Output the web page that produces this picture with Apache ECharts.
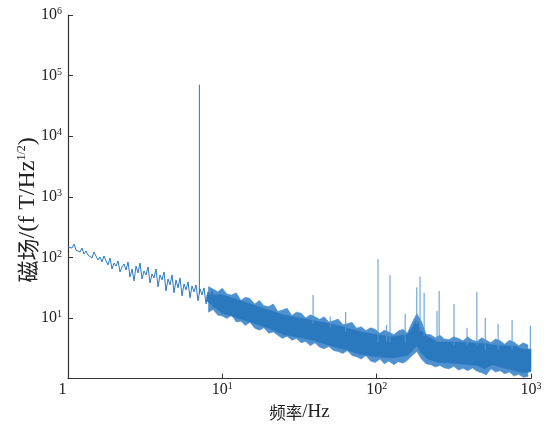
<!DOCTYPE html>
<html>
<head>
<meta charset="utf-8">
<script src="https://cdn.jsdelivr.net/npm/echarts@6/dist/echarts.min.js"></script>
<style>
  html, body { margin: 0; padding: 0; background: #fff; }
  #chart { width: 554px; height: 427px; }
</style>
</head>
<body>
<div id="chart"></div>
<script>
// low-frequency trace (1 - 10 Hz)
const traceFreq = [1.000, 1.030, 1.061, 1.094, 1.127, 1.161, 1.196, 1.232, 1.270, 1.308,
  1.348, 1.388, 1.431, 1.474, 1.519, 1.565, 1.612, 1.661, 1.711, 1.763,
  1.816, 1.872, 1.928, 1.987, 2.047, 2.109, 2.173, 2.239, 2.307, 2.377,
  2.449, 2.523, 2.599, 2.678, 2.759, 2.843, 2.929, 3.018, 3.109, 3.203,
  3.300, 3.400, 3.503, 3.609, 3.718, 3.831, 3.947, 4.066, 4.190, 4.316,
  4.447, 4.582, 4.721, 4.864, 5.011, 5.163, 5.319, 5.480, 5.646, 5.817,
  5.993, 6.175, 6.362, 6.554, 6.753, 6.957, 7.168, 7.385, 7.609, 7.839,
  8.076, 8.321, 8.573, 8.832, 9.100, 9.376, 9.660, 9.956, 10.26];
const traceVal = [148.3, 159.9, 142.7, 166, 132.3, 137.5, 122.7, 142.7, 113.7, 127.4,
  109.5, 118.1, 97.7, 122.7, 105.4, 90.6, 101.5, 84.0, 105.4, 87.2,
  75.0, 97.7, 64.5, 80.9, 72.2, 87.2, 57.5, 69.5, 77.9, 62.0,
  84.0, 47.6, 64.5, 40.9, 72.2, 55.4, 80.9, 44.1, 59.8, 51.3,
  69.5, 37.9, 53.3, 45.8, 64.5, 32.6, 51.3, 42.5, 57.5, 28.0,
  44.1, 35.2, 51.3, 26.0, 42.5, 31.4, 45.8, 23.2, 36.5, 29.1,
  39.4, 21.5, 33.9, 27.0, 35.2, 19.2, 30.2, 24.1, 31.4, 17.1,
  27.0, 20.7, 28.0, 14.7, 24.1, 18.5, 25.0, 13.6, 23.2];

// dense noise band (8 Hz - 1 kHz): solid core
const coreFreq = [7.94, 10, 12.6, 15.8, 20, 25.1, 31.6, 39.8, 50.1, 63.1,
  79.4, 100, 126, 158, 170, 182, 195, 214, 251, 316,
  398, 447, 501, 562, 631, 794, 891, 1000];
const coreHi = [24, 24, 20, 16.5, 13.5, 11.2, 10, 9, 8, 6.9,
  5.9, 5.3, 4.9, 5.3, 7, 9.5, 6.2, 4.9, 4.0, 4.0,
  3.9, 3.8, 3.8, 3.6, 3.5, 3.4, 3.0, 3.1];
const coreLo = [19, 12, 10, 8.3, 6.8, 5.3, 4.8, 4.2, 3.5, 3.0,
  2.5, 2.3, 2.2, 2.4, 2.9, 3.5, 2.6, 2.1, 1.85, 1.8,
  1.7, 1.65, 1.45, 1.7, 1.55, 1.35, 1.25, 1.3];

// ragged fringe of the band: frequency, highest and lowest excursion
const fringeFreq = [8.13, 8.71, 9.33, 10.0, 10.7, 11.5, 12.3, 13.2, 14.1, 15.1,
  16.2, 17.4, 18.6, 20.0, 21.4, 22.9, 24.5, 26.3, 28.2, 30.2,
  32.4, 34.7, 37.2, 39.8, 42.7, 45.7, 49.0, 52.5, 56.2, 60.3,
  64.6, 69.2, 74.1, 79.4, 85.1, 91.2, 97.7, 105, 112, 120,
  129, 138, 148, 158, 170, 182, 195, 209, 224, 240,
  257, 275, 295, 316, 339, 363, 389, 417, 447, 479,
  513, 550, 589, 631, 676, 724, 776, 832, 891, 955];
const fringeHi = [33, 30, 27, 31, 25, 24, 26, 19.5, 22, 21,
  17, 19.5, 16, 15.5, 17, 12.8, 13.5, 14.5, 11, 12.5,
  12, 10, 11.3, 10.5, 9.5, 10.5, 8.6, 9, 9.6, 7.8,
  8, 8.5, 6.8, 7.2, 6.2, 6.9, 6.5, 5.6, 6.3, 5.9,
  5.3, 6.1, 6.5, 5.6, 8.5, 11.7, 8.8, 5.4, 5.3, 4.7,
  5.2, 4.5, 4.4, 4.9, 4.6, 4.2, 4.9, 4.3, 4.1, 4.7,
  4.3, 3.9, 4.5, 4.2, 3.7, 4.3, 4.0, 3.5, 3.9, 3.6];
const fringeLo = [12.5, 13.8, 11.2, 10.8, 9.8, 11.2, 8.6, 8.8, 7.5, 8.5,
  6.8, 6.3, 6.9, 5.6, 5.9, 5.2, 4.6, 5.0, 4.3, 4.6,
  3.9, 4.1, 3.5, 3.9, 3.3, 3.1, 3.4, 2.9, 2.8, 2.6,
  2.9, 2.4, 2.3, 2.1, 2.4, 1.95, 1.85, 2.1, 1.75, 1.95,
  1.7, 1.9, 1.8, 2.0, 2.4, 2.8, 2.1, 1.75, 1.7, 1.55,
  1.65, 1.5, 1.45, 1.6, 1.38, 1.48, 1.35, 1.5, 1.32, 1.25,
  1.15, 1.45, 1.28, 1.35, 1.2, 1.28, 1.1, 1.18, 1.05, 1.08];

// narrow lines: frequency, foot, top
const spikeFreq = [7.1, 38.7, 50, 63, 102, 116, 122, 153, 182, 191, 203, 246, 254, 317, 385, 446, 505, 612, 754, 990];
const spikeBase = [25, 8, 7, 6, 4, 4, 4, 4, 8, 6, 5, 4, 4, 3.5, 3.5, 3.5, 3, 3, 3, 3];
const spikeTop = [71000, 24, 10.5, 12.6, 94, 7.7, 51, 11.7, 32, 48, 26, 13, 28, 17, 6.9, 27, 10, 8, 9.3, 7.5];

const blue = '#2a79bf';
const serif = '"Liberation Serif", "Times New Roman", serif';
const cjk = '"Noto Sans CJK SC", sans-serif';

function powLabel(v) {
  if (v === 1) return '{one|1}';
  return '{b|10}{s|' + Math.round(Math.log10(v)) + '}';
}
const labelRich = {
  b: { fontSize: 16, fontFamily: serif, color: '#222', lineHeight: 17 },
  one: { fontSize: 16, fontFamily: serif, color: '#222', lineHeight: 17, padding: [0, 11, 0, 0] },
  s: { fontSize: 10, fontFamily: serif, color: '#222', verticalAlign: 'top', lineHeight: 17 },
};

// polygon through hi values, back through lo values
function bandSeries(freq, hi, lo, color, z) {
  return {
    type: 'custom',
    silent: true,
    data: freq.map((f, i) => [f, hi[i], lo[i]]),
    renderItem: function (params, api) {
      if (params.dataIndex !== 0) return null;
      const pts = [];
      freq.forEach((f, i) => pts.push(api.coord([f, hi[i]])));
      for (let i = freq.length - 1; i >= 0; i--) pts.push(api.coord([freq[i], lo[i]]));
      return { type: 'polygon', shape: { points: pts }, style: { fill: color, stroke: color, lineWidth: 0.6 } };
    },
    z: z,
  };
}

const myChart = echarts.init(document.getElementById('chart'));
const option = {
  animation: false,
  grid: { left: 68, top: 15, width: 463, height: 365 },
  xAxis: {
    type: 'log',
    logBase: 10,
    min: 1,
    max: 1000,
    name: '{c|频率}{e|/Hz}',
    nameLocation: 'middle',
    nameGap: 22,
    nameTextStyle: {
      rich: {
        c: { fontSize: 16.5, fontFamily: cjk, color: '#222' },
        e: { fontSize: 19, fontFamily: serif, color: '#222' },
      },
    },
    axisLine: { lineStyle: { color: '#333', width: 1.2 } },
    axisTick: { inside: true, length: 5, lineStyle: { color: '#333' } },
    axisLabel: { margin: 3, formatter: powLabel, rich: labelRich },
    splitLine: { show: false },
  },
  yAxis: {
    type: 'log',
    logBase: 10,
    min: 1,
    max: 1000000,
    name: '{c|磁场}{e|/(f T/Hz}{s|1/2}{e|)}',
    nameLocation: 'middle',
    nameGap: 28,
    nameRotate: 90,
    nameMoveOverlap: false,
    nameTextStyle: {
      padding: [0, 26, 0, 0],
      rich: {
        c: { fontSize: 22, fontFamily: cjk, color: '#222', lineHeight: 24 },
        e: { fontSize: 24, fontFamily: serif, color: '#222', lineHeight: 24 },
        s: { fontSize: 12, fontFamily: serif, color: '#222', verticalAlign: 'top', lineHeight: 24 },
      },
    },
    axisLine: { show: true, lineStyle: { color: '#333', width: 1.2 } },
    axisTick: { inside: true, length: 5, lineStyle: { color: '#333' } },
    axisLabel: {
      margin: 6,
      formatter: v => (v === 1 ? '' : powLabel(v)),
      rich: labelRich,
    },
    splitLine: { show: false },
  },
  series: [
    bandSeries(fringeFreq, fringeHi, fringeLo, '#4f90cf', 2),
    bandSeries(coreFreq, coreHi, coreLo, blue, 3),
    {
      type: 'line',
      data: traceFreq.map((f, i) => [f, traceVal[i]]),
      showSymbol: false,
      lineStyle: { color: blue, width: 1 },
      z: 3,
    },
    {
      type: 'custom',
      silent: true,
      data: spikeFreq.map((f, i) => [f, spikeBase[i], spikeTop[i]]),
      renderItem: function (params, api) {
        const a = api.coord([api.value(0), api.value(1)]);
        const b = api.coord([api.value(0), api.value(2)]);
        return {
          type: 'line',
          shape: { x1: a[0], y1: a[1], x2: b[0], y2: b[1] },
          style: { stroke: params.dataIndex === 0 ? '#3b6fc0' : '#5596d2', lineWidth: 1 },
        };
      },
      z: 4,
    },
  ],
};
option && myChart.setOption(option);
</script>
</body>
</html>
